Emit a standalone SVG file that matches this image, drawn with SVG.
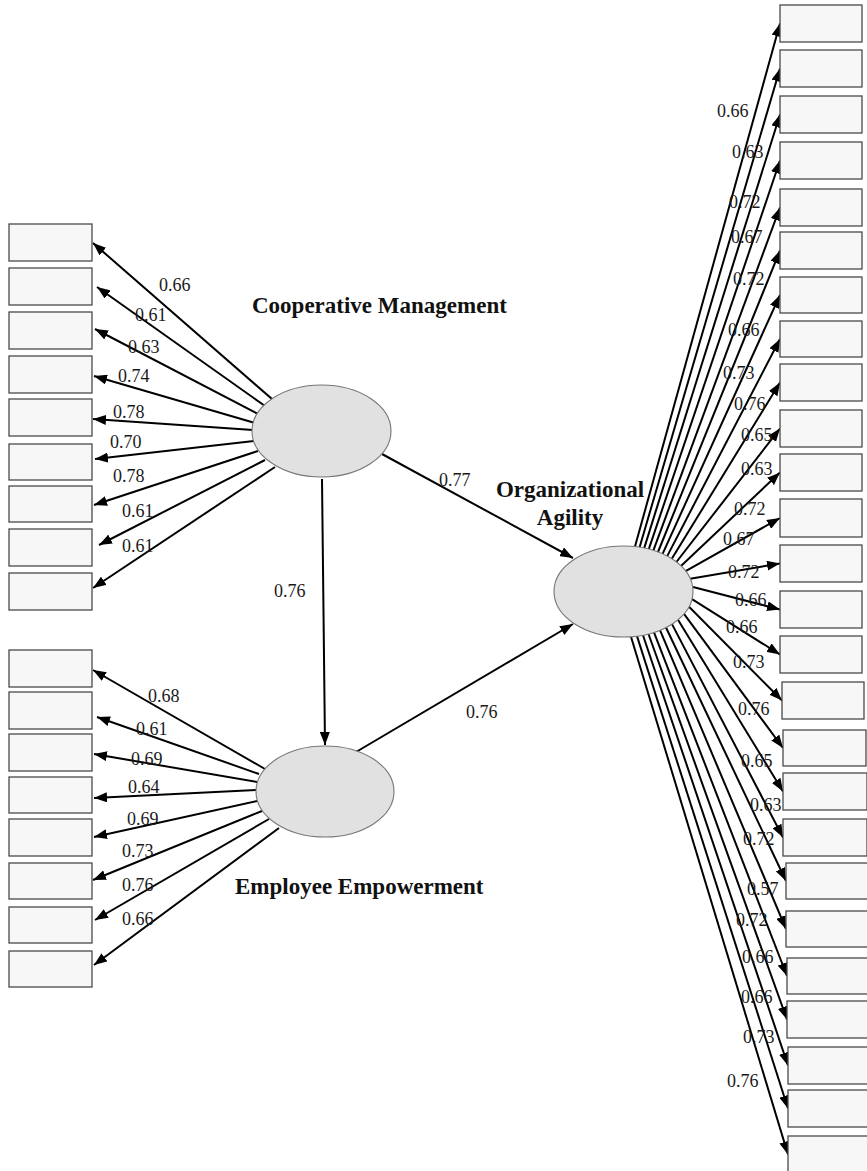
<svg xmlns="http://www.w3.org/2000/svg" width="867" height="1171" viewBox="0 0 867 1171">
<defs>
<style>
.box{fill:#f7f7f7;stroke:#4a4a4a;stroke-width:1.3}
.lat{fill:#e1e1e1;stroke:#777;stroke-width:1.1}
.c line{stroke:#000;stroke-width:2;marker-end:url(#ah)}
.lbl{font-family:"Liberation Serif","Times New Roman",serif;font-size:18px;fill:#1a1a1a}
.ttl{font-family:"Liberation Serif","Times New Roman",serif;font-size:23px;font-weight:bold;fill:#111}
</style>
<marker id="ah" markerUnits="userSpaceOnUse" markerWidth="14" markerHeight="10" refX="13" refY="5" orient="auto">
<path d="M0,0 L13,5 L0,10 z" fill="#000"/>
</marker>
</defs>
<rect width="867" height="1171" fill="#fff"/>

<g id="connectors" class="c">
<!-- structural paths -->
<line x1="382" y1="454" x2="573" y2="558"/>
<line x1="322" y1="479" x2="325" y2="745"/>
<line x1="356" y1="752" x2="573" y2="624"/>
<!-- CM indicators -->
<line x1="272" y1="399" x2="93" y2="243"/>
<line x1="265" y1="406" x2="97" y2="287"/>
<line x1="258" y1="414" x2="95" y2="329"/>
<line x1="255" y1="423" x2="94" y2="376"/>
<line x1="253" y1="430" x2="93" y2="419"/>
<line x1="254" y1="441" x2="95" y2="459"/>
<line x1="258" y1="451" x2="94" y2="505"/>
<line x1="265" y1="460" x2="99" y2="545"/>
<line x1="275" y1="467" x2="93" y2="588"/>
<!-- EE indicators -->
<line x1="265" y1="769" x2="93" y2="670"/>
<line x1="259" y1="774" x2="97" y2="717"/>
<line x1="257" y1="782" x2="94" y2="754"/>
<line x1="256" y1="790" x2="94" y2="798"/>
<line x1="257" y1="801" x2="94" y2="837"/>
<line x1="262" y1="811" x2="93" y2="880"/>
<line x1="269" y1="819" x2="95" y2="920"/>
<line x1="279" y1="828" x2="94" y2="965"/>
<!-- OA indicators top -->
<line x1="635" y1="546.6" x2="780" y2="23.5"/>
<line x1="639.6" y1="547.2" x2="780" y2="68.5"/>
<line x1="644.2" y1="548.1" x2="780" y2="114.5"/>
<line x1="648.8" y1="549.1" x2="780" y2="160.5"/>
<line x1="653.4" y1="550.4" x2="780" y2="207.5"/>
<line x1="658" y1="552" x2="780" y2="250.5"/>
<line x1="662.6" y1="553.9" x2="780" y2="295"/>
<line x1="667.2" y1="556.1" x2="780" y2="339"/>
<line x1="671.8" y1="558.8" x2="780" y2="382.5"/>
<line x1="676.4" y1="562" x2="780" y2="428.5"/>
<line x1="681" y1="565.9" x2="780" y2="472.5"/>
<line x1="685.6" y1="571.1" x2="780" y2="518"/>
<line x1="690.2" y1="578.7" x2="780" y2="563.5"/>
<!-- OA indicators bottom -->
<line x1="693" y1="587" x2="780" y2="609.5"/>
<line x1="692" y1="599.2" x2="780" y2="654.5"/>
<line x1="689" y1="606.7" x2="782" y2="700.5"/>
<line x1="684" y1="613.9" x2="783" y2="748"/>
<line x1="678" y1="619.7" x2="783" y2="791.5"/>
<line x1="672" y1="624.1" x2="783" y2="837.5"/>
<line x1="666" y1="627.5" x2="786" y2="881"/>
<line x1="660" y1="630.2" x2="786" y2="929"/>
<line x1="654" y1="632.4" x2="787" y2="976"/>
<line x1="648.5" y1="634" x2="787" y2="1019.5"/>
<line x1="643" y1="635.2" x2="788" y2="1065.5"/>
<line x1="637" y1="636.1" x2="788" y2="1108.5"/>
<line x1="631" y1="636.7" x2="788" y2="1154.5"/>
</g>

<g id="cooperative-management">
<ellipse class="lat" cx="321.5" cy="431" rx="69.5" ry="46"/>
<text class="ttl" x="252" y="313">Cooperative Management</text>
</g>
<g id="employee-empowerment">
<ellipse class="lat" cx="325" cy="791.5" rx="69" ry="45.5"/>
<text class="ttl" x="235" y="894">Employee Empowerment</text>
</g>
<g id="organizational-agility">
<ellipse class="lat" cx="623.5" cy="591.5" rx="69.5" ry="45.5"/>
<text class="ttl" x="570" y="497" text-anchor="middle">Organizational</text>
<text class="ttl" x="570" y="525" text-anchor="middle">Agility</text>
</g>

<!-- CM indicator boxes -->
<g id="cm1"><rect class="box" x="9" y="224" width="83" height="37"/></g>
<g id="cm2"><rect class="box" x="9" y="268" width="83" height="37"/></g>
<g id="cm3"><rect class="box" x="9" y="312" width="83" height="37"/></g>
<g id="cm4"><rect class="box" x="9" y="356" width="83" height="37"/></g>
<g id="cm5"><rect class="box" x="9" y="399" width="83" height="37"/></g>
<g id="cm6"><rect class="box" x="9" y="444" width="83" height="36"/></g>
<g id="cm7"><rect class="box" x="9" y="486" width="83" height="36"/></g>
<g id="cm8"><rect class="box" x="9" y="529" width="83" height="37"/></g>
<g id="cm9"><rect class="box" x="9" y="573" width="83" height="37"/></g>
<!-- EE indicator boxes -->
<g id="ee1"><rect class="box" x="9" y="650" width="83" height="37"/></g>
<g id="ee2"><rect class="box" x="9" y="692" width="83" height="37"/></g>
<g id="ee3"><rect class="box" x="9" y="734" width="83" height="37"/></g>
<g id="ee4"><rect class="box" x="9" y="777" width="83" height="36"/></g>
<g id="ee5"><rect class="box" x="9" y="819" width="83" height="37"/></g>
<g id="ee6"><rect class="box" x="9" y="863" width="83" height="36"/></g>
<g id="ee7"><rect class="box" x="9" y="907" width="83" height="36"/></g>
<g id="ee8"><rect class="box" x="9" y="951" width="83" height="36"/></g>
<!-- OA indicator boxes -->
<g id="oa1"><rect class="box" x="780" y="5" width="82" height="37"/></g>
<g id="oa2"><rect class="box" x="780" y="50" width="82" height="37"/></g>
<g id="oa3"><rect class="box" x="780" y="96" width="82" height="37"/></g>
<g id="oa4"><rect class="box" x="780" y="142" width="82" height="37"/></g>
<g id="oa5"><rect class="box" x="780" y="189" width="82" height="37"/></g>
<g id="oa6"><rect class="box" x="780" y="232" width="82" height="37"/></g>
<g id="oa7"><rect class="box" x="780" y="277" width="82" height="36"/></g>
<g id="oa8"><rect class="box" x="780" y="321" width="82" height="36"/></g>
<g id="oa9"><rect class="box" x="780" y="364" width="82" height="37"/></g>
<g id="oa10"><rect class="box" x="780" y="410" width="82" height="37"/></g>
<g id="oa11"><rect class="box" x="780" y="454" width="82" height="37"/></g>
<g id="oa12"><rect class="box" x="780" y="499" width="82" height="38"/></g>
<g id="oa13"><rect class="box" x="780" y="545" width="82" height="37"/></g>
<g id="oa14"><rect class="box" x="780" y="591" width="82" height="37"/></g>
<g id="oa15"><rect class="box" x="780" y="636" width="82" height="37"/></g>
<g id="oa16"><rect class="box" x="782" y="682" width="82" height="37"/></g>
<g id="oa17"><rect class="box" x="783" y="730" width="83" height="36"/></g>
<g id="oa18"><rect class="box" x="783" y="773" width="84" height="37"/></g>
<g id="oa19"><rect class="box" x="783" y="819" width="84" height="37"/></g>
<g id="oa20"><rect class="box" x="786" y="863" width="84" height="36"/></g>
<g id="oa21"><rect class="box" x="786" y="911" width="84" height="36"/></g>
<g id="oa22"><rect class="box" x="787" y="958" width="84" height="36"/></g>
<g id="oa23"><rect class="box" x="787" y="1001" width="84" height="37"/></g>
<g id="oa24"><rect class="box" x="788" y="1047" width="84" height="37"/></g>
<g id="oa25"><rect class="box" x="788" y="1090" width="84" height="37"/></g>
<g id="oa26"><rect class="box" x="788" y="1136" width="84" height="37"/></g>

<g id="edge-labels" class="lbl">
<text x="439" y="486">0.77</text>
<text x="274" y="597">0.76</text>
<text x="466" y="718">0.76</text>
<text x="159" y="291">0.66</text>
<text x="135" y="321">0.61</text>
<text x="128" y="353">0.63</text>
<text x="118" y="382">0.74</text>
<text x="113" y="418">0.78</text>
<text x="110" y="448">0.70</text>
<text x="113" y="482">0.78</text>
<text x="122" y="517">0.61</text>
<text x="122" y="552">0.61</text>
<text x="148" y="702">0.68</text>
<text x="136" y="735">0.61</text>
<text x="131" y="765">0.69</text>
<text x="128" y="793">0.64</text>
<text x="127" y="825">0.69</text>
<text x="122" y="857">0.73</text>
<text x="122" y="891">0.76</text>
<text x="122" y="925">0.66</text>
<text x="717" y="117">0.66</text>
<text x="732" y="158">0.63</text>
<text x="729" y="208">0.72</text>
<text x="731" y="243">0.67</text>
<text x="733" y="285">0.72</text>
<text x="728" y="336">0.66</text>
<text x="723" y="379">0.73</text>
<text x="734" y="410">0.76</text>
<text x="741" y="441">0.65</text>
<text x="741" y="475">0.63</text>
<text x="734" y="515">0.72</text>
<text x="723" y="545">0.67</text>
<text x="728" y="578">0.72</text>
<text x="735" y="606">0.66</text>
<text x="726" y="633">0.66</text>
<text x="733" y="668">0.73</text>
<text x="738" y="715">0.76</text>
<text x="741" y="767">0.65</text>
<text x="750" y="811">0.63</text>
<text x="743" y="845">0.72</text>
<text x="747" y="895">0.57</text>
<text x="736" y="926">0.72</text>
<text x="742" y="963">0.66</text>
<text x="741" y="1003">0.66</text>
<text x="743" y="1043">0.73</text>
<text x="727" y="1087">0.76</text>
</g>
</svg>
